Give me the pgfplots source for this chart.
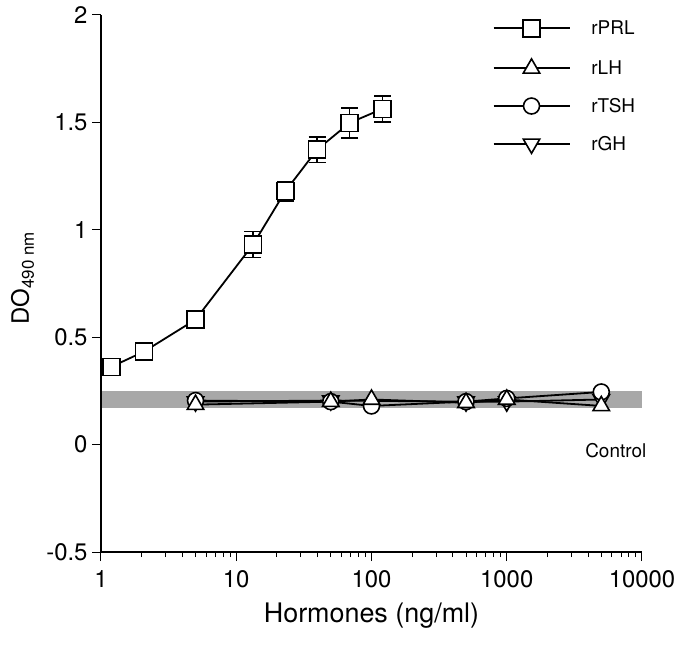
\documentclass[border=0pt]{standalone}
\usepackage{fontspec}
\setmainfont{TeX Gyre Heros}
\usepackage{pgfplots}
\pgfplotsset{compat=1.18}
\definecolor{band}{rgb}{0.66,0.66,0.66}
\begin{document}
\begin{tikzpicture}
\useasboundingbox (-101bp,-93bp) rectangle (580bp,552bp);
\begin{axis}[
  at={(0,0)}, anchor=south west,
  scale only axis, width=541bp, height=537bp,
  xmode=log, xmin=1, xmax=10000, ymin=-0.5, ymax=2,
  axis lines=left, axis line style={-, line width=1.2bp},
  tick align=outside, major tick length=9bp, minor tick length=5bp,
  tick style={line width=1bp, black},
  xtick={1,10,100,1000,10000}, xticklabels={1,10,100,1000,10000},
  minor xtick={2,3,4,5,6,7,8,9,20,30,40,50,60,70,80,90,200,300,400,500,600,700,800,900,2000,3000,4000,5000,6000,7000,8000,9000},
  ytick={-0.5,0,0.5,1,1.5,2}, yticklabels={-0.5,0,0.5,1,1.5,2},
  ticklabel style={font=\fontsize{24}{24}\selectfont},
  xticklabel style={yshift=-6bp},
  yticklabel style={xshift=-1bp},
  xlabel={Hormones (ng/ml)},
  every axis x label/.style={at={(axis description cs:0.5,-0.118)}, anchor=center, font=\fontsize{27}{27}\selectfont},
  ylabel={DO\raisebox{-5bp}{\fontsize{17}{17}\selectfont 490 nm}},
  every axis y label/.style={at={(axis description cs:-0.145,0.51)}, rotate=90, anchor=center, font=\fontsize{24}{24}\selectfont},
  clip=false,
  legend style={at={(axis description cs:0.718,0.995)}, anchor=north west, draw=none, fill=none,
    font=\fontsize{19}{19}\selectfont, row sep=22bp,
    nodes={inner sep=0pt},
    /tikz/every odd column/.append style={column sep=21bp}},
  legend cell align=left,
  legend image code/.code={\draw[mark repeat=2,mark phase=2] plot coordinates {(0bp,0bp)(38bp,0bp)(76bp,0bp)};},
  every axis plot/.append style={line width=1.8bp, black},
]
% control band
\addplot[fill=band, draw=none, forget plot] coordinates {(1.02,0.17) (10000,0.17) (10000,0.25) (1.02,0.25)} -- cycle;

% rPRL
\addplot[forget plot, mark=square*, mark size=8.5bp, mark options={fill=white, line width=1.6bp},
  error bars/.cd, y dir=both, y explicit,
  error bar style={line width=1.5bp},
  error mark options={rotate=90, mark size=8.5bp, line width=1.5bp}]
  coordinates {
  (1.19,0.362) +- (0,0)
  (2.08,0.433) +- (0,0)
  (5.0,0.582) +- (0,0)
  (13.3,0.931) +- (0,0.06)
  (23.1,1.18) +- (0,0.045)
  (39.6,1.373) +- (0,0.06)
  (69,1.498) +- (0,0.07)
  (120.6,1.563) +- (0,0.06)
  };
% rGH
\addplot[mark=triangle*, mark size=9.5bp, mark options={rotate=180, fill=white, line width=1.6bp}, forget plot]
  coordinates {(5,0.20) (50,0.205) (500,0.20) (1000,0.20) (5000,0.21)};
% rTSH
\addplot[mark=*, mark size=8bp, mark options={fill=white, line width=1.6bp}, forget plot]
  coordinates {(5,0.205) (50,0.20) (100,0.18) (500,0.20) (1000,0.215) (5000,0.245)};
% rLH
\addplot[mark=triangle*, mark size=9.5bp, mark options={fill=white, line width=1.6bp}, forget plot]
  coordinates {(5,0.186) (50,0.20) (100,0.21) (500,0.195) (1000,0.21) (5000,0.18)};

\addlegendimage{line width=1.8bp, black, mark=square*, mark size=8.5bp, mark options={fill=white, line width=1.6bp}}
\addlegendentry{rPRL}
\addlegendimage{line width=1.8bp, black, mark=triangle*, mark size=9.5bp, mark options={fill=white, line width=1.6bp}}
\addlegendentry{rLH}
\addlegendimage{line width=1.8bp, black, mark=*, mark size=8bp, mark options={fill=white, line width=1.6bp}}
\addlegendentry{rTSH}
\addlegendimage{line width=1.8bp, black, mark=triangle*, mark size=9.5bp, mark options={rotate=180, fill=white, line width=1.6bp}}
\addlegendentry{rGH}

\node[font=\fontsize{19}{19}\selectfont, anchor=center] at (axis cs:6400,-0.03) {Control};
\end{axis}
\end{tikzpicture}
\end{document}
